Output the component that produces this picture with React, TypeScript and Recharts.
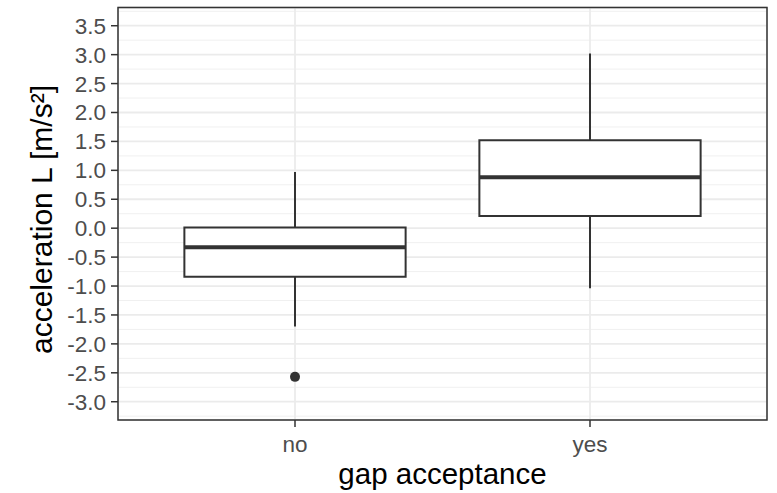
import React from 'react';
import {
  ComposedChart,
  XAxis,
  YAxis,
  CartesianGrid,
  ReferenceArea,
  ReferenceLine,
  Scatter,
  Label,
} from 'recharts';

// ---- data ----
const categories = ['no', 'yes'];
const lowerWhisker = [-1.7, -1.04];
const q1 = [-0.84, 0.21];
const median = [-0.33, 0.88];
const q3 = [0.01, 1.52];
const upperWhisker = [0.97, 3.02];
const outlierCategory = ['no'];
const outlierValue = [-2.57];

const yTicks = [-3, -2.5, -2, -1.5, -1, -0.5, 0, 0.5, 1, 1.5, 2, 2.5, 3, 3.5];
const yMinorTicks = [-3.25, -2.75, -2.25, -1.75, -1.25, -0.75, -0.25, 0.25, 0.75, 1.25, 1.75, 2.25, 2.75, 3.25, 3.75];

const xTitle = 'gap acceptance';
const yTitle = 'acceleration L [m/s²]';

// ---- axis config ----
const yDomain: [number, number] = [-3.316, 3.815];
const xDomain: [number, number] = [0.4, 2.6];
const boxHalf = 0.375;

const positions = categories.map((_, i) => i + 1);
const outlierData = outlierCategory.map((c, i) => ({ x: categories.indexOf(c) + 1, y: outlierValue[i] }));

const FONT = '"Liberation Sans", Arial, sans-serif';
const DARK = '#333333';

const YTitle = (props: any) => {
  const vb = props.viewBox || {};
  const x = (vb.x ?? 0) + 51.5;
  const y = 219.5;
  return (
    <text
      x={x}
      y={y}
      transform={`rotate(-90 ${x} ${y})`}
      textAnchor="middle"
      fontSize={30}
      fontFamily={FONT}
      fill="#000"
    >
      {yTitle}
    </text>
  );
};

export default function App() {
  return (
    <div style={{ position: 'absolute', left: 0, top: 0, width: 777, height: 493, background: '#fff' }}>
      <ComposedChart
        width={777}
        height={493}
        margin={{ top: 7.5, right: 10, bottom: 0, left: 0 }}
      >
        <CartesianGrid
          stroke="#F0F0F0"
          strokeWidth={1}
          vertical={false}
          horizontalValues={yMinorTicks}
        />
        <CartesianGrid stroke="#EBEBEB" strokeWidth={1.8} horizontal vertical />
        <XAxis
          type="number"
          dataKey="x"
          domain={xDomain}
          ticks={positions}
          interval={0}
          allowDataOverflow
          height={73}
          tickFormatter={(v: number) => categories[v - 1] ?? ''}
          tick={{ fontSize: 22.5, fill: '#4D4D4D', fontFamily: FONT }}
          tickSize={7}
          tickMargin={9}
          tickLine={{ stroke: DARK, strokeWidth: 1.5 }}
          axisLine={false}
        >
          <Label
            value={xTitle}
            position="insideBottom"
            offset={9}
            style={{ fontSize: 29.5, fill: '#000', fontFamily: FONT }}
          />
        </XAxis>
        <YAxis
          type="number"
          dataKey="y"
          domain={yDomain}
          ticks={yTicks}
          interval={0}
          allowDataOverflow
          width={118}
          tickFormatter={(v: number) => v.toFixed(1)}
          tick={{ fontSize: 22.5, fill: '#4D4D4D', fontFamily: FONT }}
          tickSize={7}
          tickMargin={5}
          tickLine={{ stroke: DARK, strokeWidth: 1.5 }}
          axisLine={false}
        >
          <Label content={YTitle} />
        </YAxis>

        {positions.map((p, i) => (
          <ReferenceLine
            key={`uw${i}`}
            segment={[{ x: p, y: q3[i] }, { x: p, y: upperWhisker[i] }]}
            stroke={DARK}
            strokeWidth={2}
          />
        ))}
        {positions.map((p, i) => (
          <ReferenceLine
            key={`lw${i}`}
            segment={[{ x: p, y: lowerWhisker[i] }, { x: p, y: q1[i] }]}
            stroke={DARK}
            strokeWidth={2}
          />
        ))}
        {positions.map((p, i) => (
          <ReferenceArea
            key={`box${i}`}
            x1={p - boxHalf}
            x2={p + boxHalf}
            y1={q1[i]}
            y2={q3[i]}
            fill="#ffffff"
            fillOpacity={1}
            stroke={DARK}
            strokeWidth={2}
          />
        ))}
        {positions.map((p, i) => (
          <ReferenceLine
            key={`med${i}`}
            segment={[{ x: p - boxHalf, y: median[i] }, { x: p + boxHalf, y: median[i] }]}
            stroke={DARK}
            strokeWidth={4}
          />
        ))}

        <Scatter
          data={outlierData}
          dataKey="y"
          fill={DARK}
          isAnimationActive={false}
          shape={(props: any) => <circle cx={props.cx} cy={props.cy} r={5} fill={DARK} />}
        />

        <ReferenceArea
          x1={xDomain[0]}
          x2={xDomain[1]}
          y1={yDomain[0]}
          y2={yDomain[1]}
          fill="none"
          stroke={DARK}
          strokeWidth={1.5}
          ifOverflow="visible"
        />
      </ComposedChart>
    </div>
  );
}
